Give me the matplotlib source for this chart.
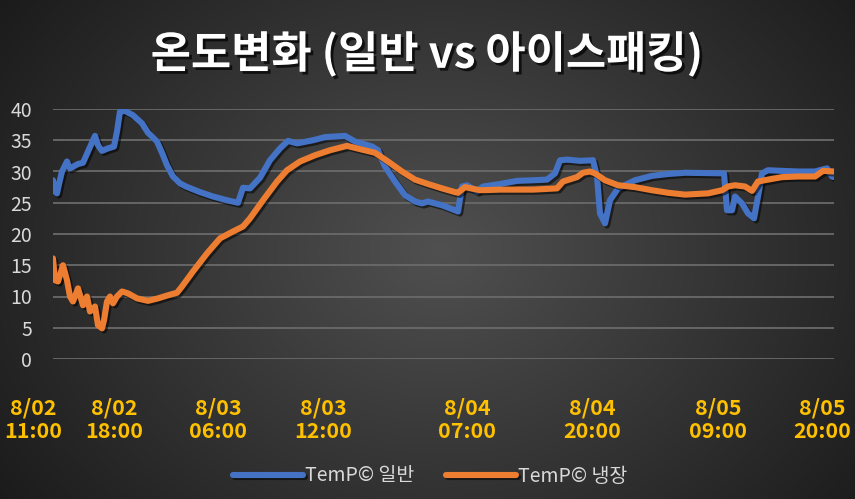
import numpy as np
import matplotlib
matplotlib.use("Agg")
import matplotlib.pyplot as plt
import matplotlib.patheffects as pe
from matplotlib.transforms import ScaledTranslation

plt.rcParams['font.family'] = ['Noto Sans CJK KR', 'DejaVu Sans']

# ---------------- data ----------------
title = "온도변화 (일반 vs 아이스패킹)"
series_names = ["TemP© 일반", "TemP© 냉장"]

# sample index (category position) and temperature
blue_idx = [0, 1, 2, 3, 4.5, 7, 8.5, 12.5, 15, 17.5, 21, 22.5, 24.5, 27.5, 30.5, 32, 33.5, 36, 40,
            44.5, 47.5, 52, 54.5, 57, 60, 63.5, 66.5, 73.5, 80, 87, 92.5, 95, 98.5, 103.5, 108.5,
            113.5, 117.5, 122, 130, 136, 146, 151, 159.5, 162.5, 166, 171, 176, 181, 184.5, 187.5,
            194.5, 201, 202.5, 204.5, 207, 212, 215, 223.5, 232, 240, 247, 251, 253.5, 257, 263.5,
            270, 272, 273.5, 276, 278.5, 282.5, 291, 299.5, 307.5, 316, 335.5, 337, 339.5, 341,
            344.5, 347.5, 350.5, 352.5, 354.5, 357.5, 364.5, 372.5, 381, 384.5, 387, 389.5, 390.5]
blue_val = [28.6, 26.8, 26.5, 28.0, 30.0, 31.6, 30.5, 31.2, 31.4, 33.2, 35.7, 34.2, 33.3, 33.7, 34.0,
            36.4, 39.6, 39.7, 39.0, 37.7, 36.2, 34.8, 33.0, 31.0, 29.2, 28.1, 27.6, 26.7, 26.0, 25.4,
            25.0, 27.4, 27.3, 29.0, 31.8, 33.7, 34.9, 34.5, 35.0, 35.5, 35.7, 34.8, 34.0, 33.4, 30.8,
            28.4, 26.2, 25.2, 24.9, 25.2, 24.6, 23.8, 23.6, 27.6, 27.8, 26.8, 27.6, 28.0, 28.5, 28.6,
            28.7, 29.7, 31.8, 31.9, 31.7, 31.8, 29.2, 23.3, 21.7, 25.4, 27.3, 28.6, 29.3, 29.6, 29.8,
            29.7, 23.8, 23.8, 26.0, 24.9, 23.3, 22.5, 26.0, 29.7, 30.2, 30.1, 30.0, 30.0, 30.3, 30.5,
            29.2, 29.1]

orange_idx = [0, 1, 2.5, 5, 7, 8.5, 10, 12.5, 15, 17, 18.5, 21, 22.5, 24.5, 25.5, 27, 28.5, 30, 32,
              34.5, 37.5, 42, 47.5, 52.5, 57.5, 62, 64.5, 70, 77, 83.5, 90, 95, 98.5, 105, 112, 117,
              123.5, 131, 138.5, 147, 154.5, 161, 167.5, 174.5, 181, 187.5, 194.5, 201, 202.5, 206,
              213.5, 223.5, 240, 252, 255, 262, 265, 268.5, 271, 276, 282.5, 291, 299.5, 307.5, 316,
              327.5, 334.5, 337.5, 341, 346, 349.5, 352.5, 357.5, 364.5, 372.5, 381, 385, 390.5]
orange_val = [16.1, 12.6, 12.4, 15.0, 12.6, 10.0, 9.2, 11.3, 8.6, 10.0, 7.6, 8.4, 5.4, 4.9, 6.2, 9.2,
              10.0, 8.9, 10.0, 10.8, 10.5, 9.7, 9.3, 9.7, 10.2, 10.6, 11.6, 14.0, 16.9, 19.3, 20.4,
              21.2, 22.5, 25.4, 28.4, 30.2, 31.6, 32.6, 33.4, 34.1, 33.5, 33.0, 31.6, 30.0, 28.7, 28.0,
              27.3, 26.7, 26.6, 27.5, 27.0, 27.1, 27.1, 27.3, 28.4, 29.1, 29.8, 30.0, 29.7, 28.6, 27.8,
              27.5, 27.0, 26.6, 26.3, 26.5, 27.0, 27.6, 27.8, 27.6, 26.9, 28.4, 28.7, 29.1, 29.2, 29.2,
              30.1, 30.0]

tick_pos = [0, 30.5, 82.5, 135, 207, 269.5, 332.5, 390.5]
tick_labels = ["8/02\n11:00", "8/02\n18:00", "8/03\n06:00", "8/03\n12:00",
               "8/04\n07:00", "8/04\n20:00", "8/05\n09:00", "8/05\n20:00"]
y_ticks = [0, 5, 10, 15, 20, 25, 30, 35, 40]

BLUE = "#4472C4"
ORANGE = "#ED7D31"

# ---------------- figure ----------------
W, H = 855, 499
fig = plt.figure(figsize=(W / 100, H / 100), dpi=100)

# radial gradient background
bg = fig.add_axes([0, 0, 1, 1], zorder=-10)
yy, xx = np.mgrid[0:H, 0:W]
cx, cy = 440, 250
r = np.sqrt(((xx - cx) / (W * 0.62)) ** 2 + ((yy - cy) / (H * 0.85)) ** 2)
r = np.clip(r, 0, 1)
c0, c1 = 0x50 / 255, 0x1c / 255
val = c0 + (c1 - c0) * r
img = np.dstack([val, val, val])
bg.imshow(img, aspect='auto', extent=[0, 1, 0, 1], origin='upper')
bg.axis('off')

left, right = 53 / W, 834 / W
bottom, top = 1 - 359 / H, 1 - 109 / H
ax = fig.add_axes([left, bottom, right - left, top - bottom])
ax.set_facecolor('none')

shadow = [pe.SimpleLineShadow(offset=(1.5, -1.5), shadow_color='black', alpha=0.55), pe.Normal()]
l1, = ax.plot(blue_idx, blue_val, color=BLUE, lw=4.4, solid_joinstyle='round',
              solid_capstyle='round', path_effects=shadow, zorder=3, label=series_names[0])
l2, = ax.plot(orange_idx, orange_val, color=ORANGE, lw=4.4, solid_joinstyle='round',
              solid_capstyle='round', path_effects=shadow, zorder=4, label=series_names[1])

ax.set_xlim(0, 390.5)
ax.set_ylim(0, 40)
ax.set_yticks(y_ticks)
ax.set_yticklabels([str(v) for v in y_ticks])
ax.yaxis.grid(True, color='#6a6a6a', lw=1.3)
ax.set_axisbelow(True)
for s in ax.spines.values():
    s.set_visible(False)
ax.tick_params(axis='y', length=0, pad=15, labelsize=14, labelcolor='#d9d9d9')
ax.tick_params(axis='x', length=0, pad=28, labelsize=15.5, labelcolor='#FFC000')
ax.set_xticks(tick_pos)
ax.set_xticklabels(tick_labels, fontweight='bold', linespacing=1.15)
xl = ax.get_xticklabels()
xl[0].set_transform(xl[0].get_transform() + ScaledTranslation(-20 / 100, 0, fig.dpi_scale_trans))
xl[-1].set_transform(xl[-1].get_transform() + ScaledTranslation(-12 / 100, 0, fig.dpi_scale_trans))

fig.text(427 / W, 1 - 54 / H, title, ha='center', va='center', fontsize=31.5, fontweight='bold',
         color='white',
         path_effects=[pe.SimplePatchShadow(offset=(2, -2), shadow_rgbFace='black', alpha=0.7),
                       pe.Normal()])

leg = fig.legend(handles=[l1, l2], loc='center', bbox_to_anchor=(430 / W, 1 - 476 / H), ncol=2,
                 frameon=False, fontsize=14, handlelength=3.6, handletextpad=0.1,
                 columnspacing=1.6, labelcolor='#d9d9d9')

fig.savefig("out.png", dpi=100)
